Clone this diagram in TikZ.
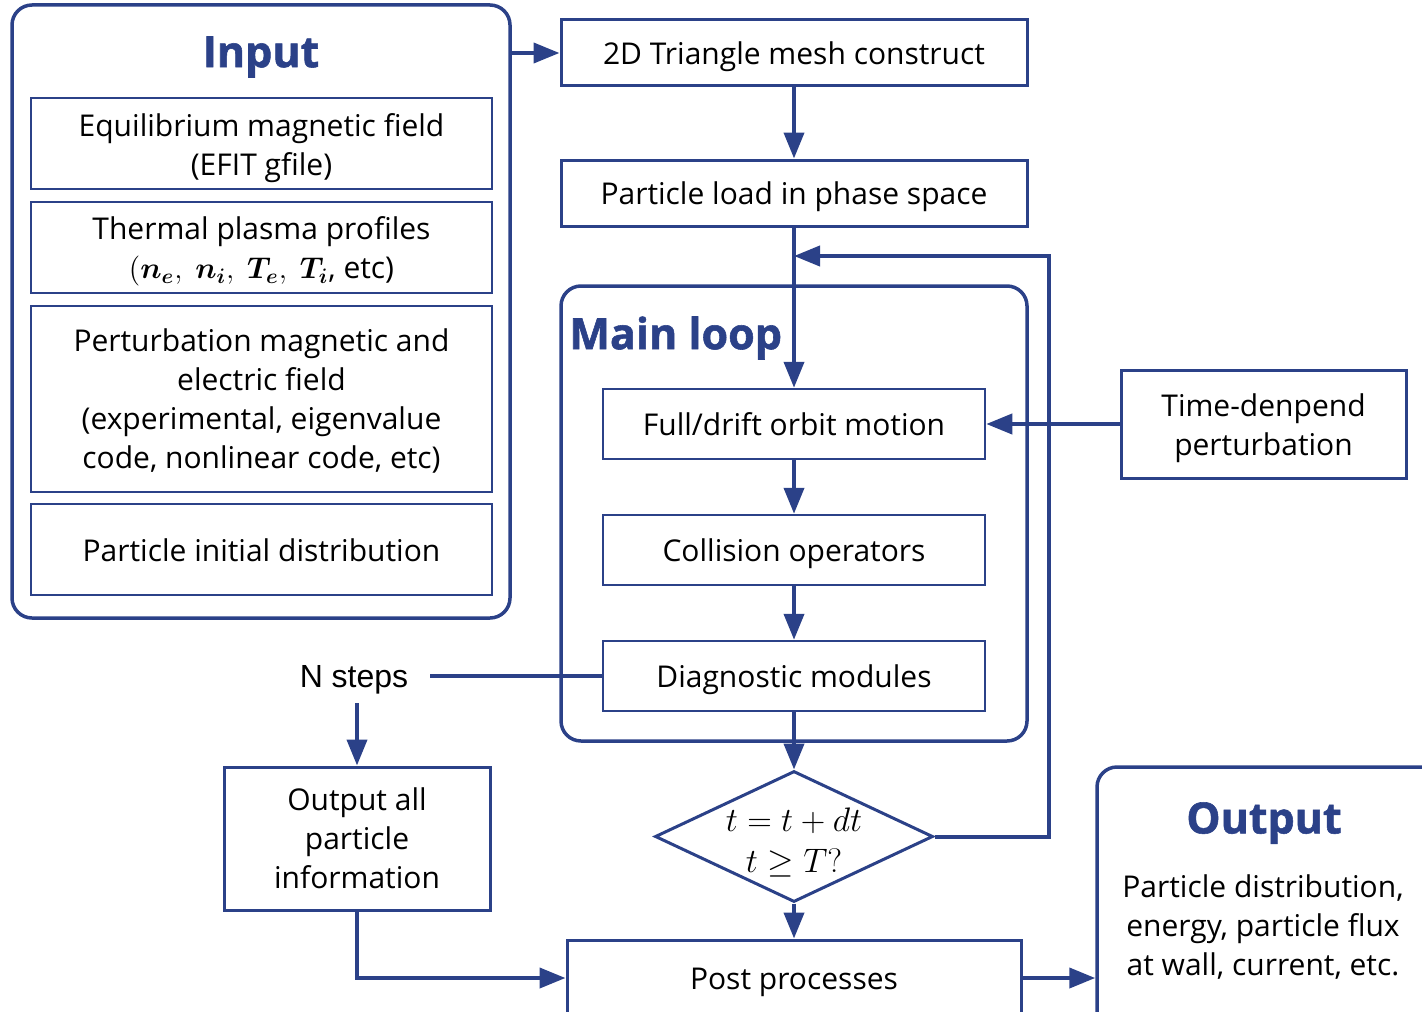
\RequirePackage{fix-cm}
\documentclass[tikz,border=0pt]{standalone}
\usepackage{amsmath}
\usepackage{bm}
\usepackage{fontspec}
\setmainfont{Open Sans}
\newfontfamily\arialf{Liberation Sans}
\newfontfamily\titlef{Open Sans}[BoldFeatures={FakeBold=1.3}]
\usetikzlibrary{shapes.geometric,arrows.meta}
\definecolor{dblue}{HTML}{2B4188}
\tikzset{
  body/.style={font=\fontsize{15}{19.5}\selectfont, align=center, inner sep=0pt},
  container/.style={draw=dblue, line width=1.75pt, rounded corners=10pt, inner sep=0pt},
  inbox/.style={draw=dblue, line width=1.25pt, inner sep=0pt},
  stepbox/.style={draw=dblue, line width=1.5pt, inner sep=0pt},
  titletext/.style={text=dblue, font=\titlef\fontsize{21.5}{25}\selectfont\bfseries, inner sep=0pt},
  conn/.style={draw=dblue, line width=2pt, -{Triangle[length=13pt,width=10pt]}},
  plain/.style={draw=dblue, line width=2pt},
}
\begin{document}
\begin{tikzpicture}[x=0.5pt,y=-0.5pt]
\useasboundingbox (0,0) rectangle (1422,1011);
% Input container
\node[container, minimum width=249pt, minimum height=306.5pt] (inputbox) at (261,311.5) {};
\node[titletext] (inputtitle) at (261,57) {Input};
\node[inbox, minimum width=230.5pt, minimum height=45.5pt,
      label={[body, yshift=-2.5pt, name=eqt]center:{Equilibrium magnetic field\\(EFIT gfile)}}] (eq) at (261.5,143.5) {};
\node[inbox, minimum width=230.5pt, minimum height=45.5pt,
      label={[body, yshift=-2pt, name=tht]center:{Thermal plasma profiles\\$(\bm{n_e},\ \bm{n_i},\ \bm{T_e},\ \bm{T_i}$, etc)}}] (th) at (261.5,247.5) {};
\node[inbox, minimum width=230.5pt, minimum height=93pt,
      label={[body, yshift=-1pt, name=pet]center:{Perturbation magnetic and\\electric field\\(experimental, eigenvalue\\code, nonlinear code, etc)}}] (pe) at (261.5,399) {};
\node[inbox, minimum width=230.5pt, minimum height=45.5pt,
      label={[body, yshift=-0.5pt, name=pit]center:{Particle initial distribution}}] (pi) at (261.5,549.5) {};

% top column
\node[stepbox, minimum width=233pt, minimum height=33pt,
      label={[body, yshift=-2pt, name=mesht]center:{2D Triangle mesh construct}}] (mesh) at (794,53) {};
\node[stepbox, minimum width=233pt, minimum height=33pt,
      label={[body, yshift=-2pt, name=loadt]center:{Particle load in phase space}}] (load) at (794,193) {};

% Main loop
\node[container, minimum width=233pt, minimum height=227.5pt] (mainloop) at (794,513.5) {};
\node[titletext, anchor=west] (looptitle) at (569,338) {Main loop};
\node[inbox, minimum width=191pt, minimum height=35pt,
      label={[body, name=fullt]center:{Full/drift orbit motion}}] (full) at (794,424) {};
\node[inbox, minimum width=191pt, minimum height=35pt,
      label={[body, yshift=-2pt, name=collt]center:{Collision operators}}] (coll) at (794,550) {};
\node[inbox, minimum width=191pt, minimum height=35pt,
      label={[body, yshift=-2pt, name=diagt]center:{Diagnostic modules}}] (diag) at (794,676) {};

% diamond
\node[draw=dblue, line width=1.5pt, diamond, aspect=2.12, minimum width=139pt, minimum height=65.5pt, inner sep=0pt,
      label={[body, font=\fontsize{17}{20.5}\selectfont, yshift=-3pt, name=diat]center:{$t=t+dt$\\$t\geq T?$}}] (dia) at (794,836.5) {};

% time depend
\node[stepbox, minimum width=142.5pt, minimum height=54pt,
      label={[body, yshift=-2pt, name=timet]center:{Time-denpend\\perturbation}}] (time) at (1263.5,424) {};

% post
\node[stepbox, minimum width=227pt, minimum height=38pt,
      label={[body, yshift=-2pt, name=postt]center:{Post processes}}] (post) at (794,978) {};

% Output container
\node[container, minimum width=171.5pt, minimum height=131.5pt] (outbox) at (1268.5,898.5) {};
\node[titletext] (outtitle) at (1264,823) {Output};
\node[body] (outtext) at (1263,927) {Particle distribution,\\energy, particle flux\\at wall, current, etc.};

% N steps and output all
\node[minimum width=76pt, minimum height=26pt, inner sep=0pt,
      label={[font=\arialf\fontsize{16}{19}\selectfont, inner sep=0pt, yshift=-1.5pt, name=nstepst]center:{N steps}}] (nsteps) at (354,677) {};
\node[stepbox, minimum width=133pt, minimum height=71.5pt,
      label={[body, name=outallt]center:{Output all\\particle\\information}}] (outall) at (357,838.5) {};

% connectors
\draw[conn] (inputbox.east |- mesh.west) -- (mesh.west);
\draw[conn] (mesh.south) -- (load.north);
\draw[conn] (load.south) -- (full.north);
\draw[conn] (full.south) -- (coll.north);
\draw[conn] (coll.south) -- (diag.north);
\draw[conn] (diag.south) -- (dia.north);
\draw[conn] (dia.south) -- (post.north);
\coordinate (loopx) at (1049,256);
\coordinate (loopin) at (794,256);
\draw[conn] (dia.east) -| (loopx) -- (loopin);
\draw[conn] (time.west) -- (full.east);
\draw[conn] (post.east) -- (post.east -| outbox.west);
\draw[plain] (diag.west -| nsteps.east) -- (diag.west);
\draw[conn] (outall.north |- nsteps.south) -- (outall.north);
\draw[conn] (outall.south) |- (post.west);
\end{tikzpicture}
\end{document}
